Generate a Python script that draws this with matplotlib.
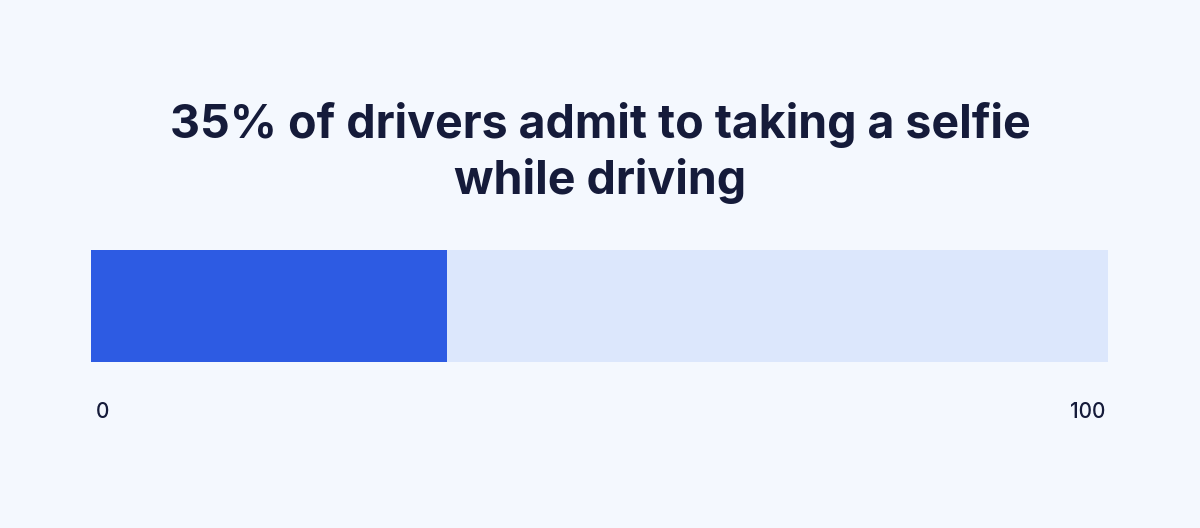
import matplotlib.pyplot as plt

# data
value = 35
total = 100
title = "35% of drivers admit to taking a selfie\nwhile driving"
tick_values = [0, 100]
tick_labels = ["0", "100"]

bg = "#F4F8FE"
fig = plt.figure(figsize=(12, 5.28), dpi=100, facecolor=bg)
ax = fig.add_axes([91 / 1200, 1 - 362 / 528, (1108 - 91) / 1200, (362 - 250) / 528])
ax.set_facecolor(bg)

ax.barh([0], [total], height=1, color="#DCE7FC", left=0)
ax.barh([0], [value], height=1, color="#2D5BE3", left=0)
ax.set_xlim(0, total)
ax.set_ylim(-0.5, 0.5)
ax.axis("off")

fig.text(0.5, 1 - 153 / 528, title, ha="center", va="center", fontsize=33.5,
         fontweight="bold", family="Inter", color="#151B3A", linespacing=1.26)

# end labels, nudged slightly inward like the original
ax.text(tick_values[0] + 0.5, -0.95, tick_labels[0], ha="left", va="center",
        fontsize=15, fontweight="medium", family="Inter", color="#151B3A")
ax.text(tick_values[1] - 0.3, -0.95, tick_labels[1], ha="right", va="center",
        fontsize=15, fontweight="medium", family="Inter", color="#151B3A")

fig.savefig("out.png", dpi=100, facecolor=bg)
